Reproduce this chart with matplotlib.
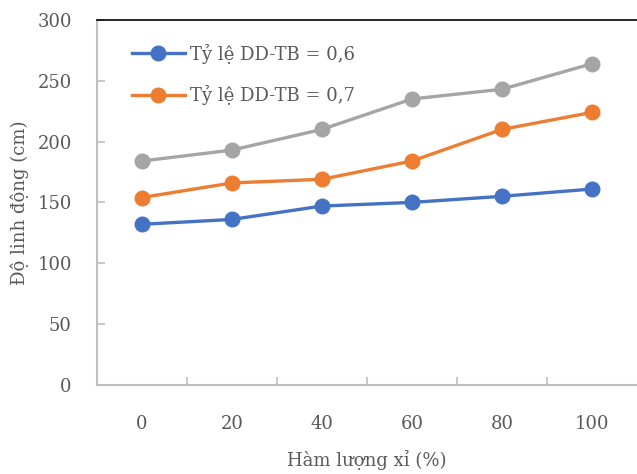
import matplotlib.pyplot as plt

categories = ['0', '20', '40', '60', '80', '100']
series_06 = [132, 136, 147, 150, 155, 161]
series_07 = [154, 166, 169, 184, 210, 224]
series_08 = [184, 193, 210, 235, 243, 264]
y_ticks = [0, 50, 100, 150, 200, 250, 300]

text_color = '#595959'
plt.rcParams['font.family'] = ['DejaVu Serif']


def plot_chart():
    fig = plt.figure(figsize=(6.37, 4.74), dpi=100)
    ax = fig.add_axes([0.152, 0.188, 0.848, 0.770])
    x = list(range(len(categories)))

    ax.plot(x, series_06, color='#4472C4', lw=2.4, marker='o', ms=10.5,
            label='Tỷ lệ DD-TB = 0,6')
    ax.plot(x, series_07, color='#ED7D31', lw=2.4, marker='o', ms=10.5,
            label='Tỷ lệ DD-TB = 0,7')
    ax.plot(x, series_08, color='#A5A5A5', lw=2.4, marker='o', ms=10.5,
            label='_nolegend_')

    ax.set_xlim(-0.5, len(categories) - 0.5)
    ax.set_ylim(0, 300)
    ax.set_xticks(x)
    ax.set_xticklabels(categories)
    ax.set_xticks([i + 0.5 for i in range(len(categories) - 1)], minor=True)
    ax.set_yticks(y_ticks)

    ax.tick_params(axis='x', which='major', length=0, pad=22, labelsize=13, labelcolor=text_color)
    ax.tick_params(axis='x', which='minor', direction='in', length=6, width=1.2, color='#BFBFBF')
    ax.tick_params(axis='y', direction='in', length=6, width=1.2, color='#BFBFBF',
                   pad=18, labelsize=13, labelcolor=text_color)

    for s in ['left', 'bottom']:
        ax.spines[s].set_color('#BFBFBF')
        ax.spines[s].set_linewidth(1.5)
    ax.spines['right'].set_visible(False)
    ax.spines['top'].set_color('black')
    ax.spines['top'].set_linewidth(1.2)

    ax.set_xlabel('Hàm lượng xỉ (%)', fontsize=13, color=text_color, labelpad=12)
    ax.set_ylabel('Độ linh động (cm)', fontsize=13, color=text_color, labelpad=6)

    ax.legend(loc='upper left', bbox_to_anchor=(0.032, 0.984), frameon=False, fontsize=13,
              labelcolor=text_color, handlelength=2.9, labelspacing=1.2,
              borderaxespad=0.6, handletextpad=0.3)

    fig.savefig('out.png', dpi=100)


def main():
    plot_chart()


if __name__ == '__main__':
    main()
